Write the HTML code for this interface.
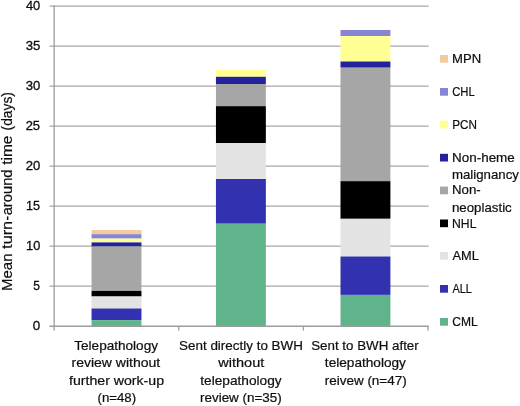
<!DOCTYPE html>
<html>
<head>
<meta charset="utf-8">
<title>Mean turn-around time</title>
<style>
html,body{margin:0;padding:0;background:#fff;}
body{width:520px;height:406px;overflow:hidden;font-family:"Liberation Sans",sans-serif;}
svg{display:block;}
text{font-family:"Liberation Sans",sans-serif;fill:#0d0d0d;stroke:#0d0d0d;stroke-width:0.2px;stroke-linejoin:round;}
.tk{stroke-width:0.3px;}
</style>
</head>
<body>
<svg width="520" height="406" viewBox="0 0 520 406">
<defs><filter id="soft" x="0" y="0" width="520" height="406" filterUnits="userSpaceOnUse"><feGaussianBlur stdDeviation="0.3"/></filter></defs>
<rect x="0" y="0" width="520" height="406" fill="#ffffff"/>
<g id="grid" stroke="#a6a6a6" stroke-width="1.25" fill="none" filter="url(#soft)">
<line x1="49.5" y1="6.0" x2="428.6" y2="6.0"/>
<line x1="49.5" y1="46.0" x2="428.6" y2="46.0"/>
<line x1="49.5" y1="86.0" x2="428.6" y2="86.0"/>
<line x1="49.5" y1="126.0" x2="428.6" y2="126.0"/>
<line x1="49.5" y1="166.0" x2="428.6" y2="166.0"/>
<line x1="49.5" y1="206.0" x2="428.6" y2="206.0"/>
<line x1="49.5" y1="246.0" x2="428.6" y2="246.0"/>
<line x1="49.5" y1="286.0" x2="428.6" y2="286.0"/>
</g>
<g id="bar1" filter="url(#soft)">
<rect x="91.55" y="230" width="49.9" height="4.20" fill="#f4cb9a"/>
<rect x="91.55" y="234.2" width="49.9" height="4.40" fill="#8585d4"/>
<rect x="91.55" y="238.6" width="49.9" height="3.80" fill="#ffff94"/>
<rect x="91.55" y="242.4" width="49.9" height="4.10" fill="#24249c"/>
<rect x="91.55" y="246.5" width="49.9" height="44.40" fill="#a6a6a6"/>
<rect x="91.55" y="290.9" width="49.9" height="5.60" fill="#000000"/>
<rect x="91.55" y="296.5" width="49.9" height="12.00" fill="#e3e3e3"/>
<rect x="91.55" y="308.5" width="49.9" height="11.60" fill="#3030b0"/>
<rect x="91.55" y="320.1" width="49.9" height="5.90" fill="#60b48c"/>
</g>
<g id="bar2" filter="url(#soft)">
<rect x="215.95" y="69.8" width="49.9" height="7.00" fill="#ffff94"/>
<rect x="215.95" y="76.8" width="49.9" height="7.20" fill="#24249c"/>
<rect x="215.95" y="84" width="49.9" height="22.20" fill="#a6a6a6"/>
<rect x="215.95" y="106.2" width="49.9" height="36.80" fill="#000000"/>
<rect x="215.95" y="143" width="49.9" height="36.00" fill="#e3e3e3"/>
<rect x="215.95" y="179" width="49.9" height="44.70" fill="#3030b0"/>
<rect x="215.95" y="223.7" width="49.9" height="102.30" fill="#60b48c"/>
</g>
<g id="bar3" filter="url(#soft)">
<rect x="340.5" y="30" width="49.9" height="6.00" fill="#8585d4"/>
<rect x="340.5" y="36" width="49.9" height="25.50" fill="#ffff94"/>
<rect x="340.5" y="61.5" width="49.9" height="6.20" fill="#24249c"/>
<rect x="340.5" y="67.7" width="49.9" height="113.50" fill="#a6a6a6"/>
<rect x="340.5" y="181.2" width="49.9" height="37.60" fill="#000000"/>
<rect x="340.5" y="218.8" width="49.9" height="37.70" fill="#e3e3e3"/>
<rect x="340.5" y="256.5" width="49.9" height="38.40" fill="#3030b0"/>
<rect x="340.5" y="294.9" width="49.9" height="31.10" fill="#60b48c"/>
</g>
<g id="axes" stroke="#9c9c9c" stroke-width="1.3" fill="none" filter="url(#soft)">
<line x1="54.15" y1="5.3" x2="54.15" y2="330.6"/>
<line x1="49.4" y1="326.25" x2="428.8" y2="326.25"/>
</g>
<g id="xticks" stroke="#a0a0a0" stroke-width="1.3" fill="none" filter="url(#soft)">
<line x1="178.7" y1="326" x2="178.7" y2="330.6"/>
<line x1="303.4" y1="326" x2="303.4" y2="330.6"/>
<line x1="428" y1="326" x2="428" y2="330.6"/>
</g>
<g id="legend" filter="url(#soft)">
<rect x="440" y="55" width="8" height="7.7" fill="#f4cb9a"/>
<rect x="440" y="88" width="8" height="7.7" fill="#8585d4"/>
<rect x="440" y="120.7" width="8" height="7.7" fill="#ffff94"/>
<rect x="440" y="153.8" width="8" height="7.7" fill="#24249c"/>
<rect x="440" y="186.6" width="8" height="7.7" fill="#a6a6a6"/>
<rect x="440" y="219.5" width="8" height="7.7" fill="#000000"/>
<rect x="440" y="252" width="8" height="7.7" fill="#e3e3e3"/>
<rect x="440" y="285" width="8" height="7.7" fill="#3030b0"/>
<rect x="440" y="318" width="8" height="7.7" fill="#60b48c"/>
</g>
<g id="labels" filter="url(#soft)">
<text id="t40" class="tk" x="25.90" y="10.3" font-size="12.4" textLength="14.35" lengthAdjust="spacingAndGlyphs">40</text>
<text id="t35" class="tk" x="25.65" y="50.3" font-size="12.4" textLength="14.67" lengthAdjust="spacingAndGlyphs">35</text>
<text id="t30" class="tk" x="25.65" y="90.3" font-size="12.4" textLength="14.61" lengthAdjust="spacingAndGlyphs">30</text>
<text id="t25" class="tk" x="25.65" y="130.3" font-size="12.4" textLength="14.45" lengthAdjust="spacingAndGlyphs">25</text>
<text id="t20" class="tk" x="25.65" y="170.3" font-size="12.4" textLength="14.62" lengthAdjust="spacingAndGlyphs">20</text>
<text id="t15" class="tk" x="26.10" y="210.3" font-size="12.4" textLength="14.03" lengthAdjust="spacingAndGlyphs">15</text>
<text id="t10" class="tk" x="26.10" y="250.3" font-size="12.4" textLength="14.21" lengthAdjust="spacingAndGlyphs">10</text>
<text id="t5" class="tk" x="33.25" y="290.3" font-size="12.4" textLength="6.67" lengthAdjust="spacingAndGlyphs">5</text>
<text id="t0" class="tk" x="32.75" y="330.3" font-size="12.4" textLength="7.47" lengthAdjust="spacingAndGlyphs">0</text>
<text id="c11" class="cat" x="74.25" y="349.6" font-size="13.2" textLength="83.75" lengthAdjust="spacingAndGlyphs">Telepathology</text>
<text id="c12" class="cat" x="71.50" y="367.1" font-size="13.2" textLength="88.75" lengthAdjust="spacingAndGlyphs">review without</text>
<text id="c13" class="cat" x="69.00" y="384.6" font-size="13.2" textLength="95.01" lengthAdjust="spacingAndGlyphs">further work-up</text>
<text id="c14" class="cat" x="97.50" y="401.9" font-size="13.2" textLength="38.55" lengthAdjust="spacingAndGlyphs">(n=48)</text>
<text id="c21" class="cat" x="179.00" y="349.6" font-size="13.2" textLength="123.97" lengthAdjust="spacingAndGlyphs">Sent directly to BWH</text>
<text id="c22" class="cat" x="218.25" y="367.1" font-size="13.2" textLength="46.01" lengthAdjust="spacingAndGlyphs">without</text>
<text id="c23" class="cat" x="200.25" y="384.6" font-size="13.2" textLength="81.45" lengthAdjust="spacingAndGlyphs">telepathology</text>
<text id="c24" class="cat" x="200.00" y="401.9" font-size="13.2" textLength="81.77" lengthAdjust="spacingAndGlyphs">review (n=35)</text>
<text id="c31" class="cat" x="311.20" y="349.6" font-size="13.2" textLength="107.56" lengthAdjust="spacingAndGlyphs">Sent to BWH after</text>
<text id="c32" class="cat" x="324.85" y="367.1" font-size="13.2" textLength="81.11" lengthAdjust="spacingAndGlyphs">telepathology</text>
<text id="c33" class="cat" x="324.70" y="384.6" font-size="13.2" textLength="82.03" lengthAdjust="spacingAndGlyphs">reivew (n=47)</text>
<text id="l1" class="lg" x="452.05" y="62.8" font-size="13.0" textLength="29.08" lengthAdjust="spacingAndGlyphs">MPN</text>
<text id="l2" class="lg" x="452.25" y="96.2" font-size="13.0" textLength="22.44" lengthAdjust="spacingAndGlyphs">CHL</text>
<text id="l3" class="lg" x="452.30" y="128.5" font-size="13.0" textLength="24.72" lengthAdjust="spacingAndGlyphs">PCN</text>
<text id="l4a" class="lg" x="452.05" y="161.6" font-size="13.0" textLength="62.73" lengthAdjust="spacingAndGlyphs">Non-heme</text>
<text id="l4b" class="lg" x="452.00" y="179.4" font-size="13.0" textLength="66.91" lengthAdjust="spacingAndGlyphs">malignancy</text>
<text id="l5a" class="lg" x="452.05" y="194.2" font-size="13.0" textLength="28.63" lengthAdjust="spacingAndGlyphs">Non-</text>
<text id="l5b" class="lg" x="452.00" y="211.7" font-size="13.0" textLength="59.72" lengthAdjust="spacingAndGlyphs">neoplastic</text>
<text id="l6" class="lg" x="452.05" y="227.6" font-size="13.0" textLength="24.43" lengthAdjust="spacingAndGlyphs">NHL</text>
<text id="l7" class="lg" x="452.45" y="259.8" font-size="13.0" textLength="26.38" lengthAdjust="spacingAndGlyphs">AML</text>
<text id="l8" class="lg" x="452.45" y="292.7" font-size="13.0" textLength="19.48" lengthAdjust="spacingAndGlyphs">ALL</text>
<text id="l9" class="lg" x="452.25" y="325.5" font-size="13.0" textLength="25.38" lengthAdjust="spacingAndGlyphs">CML</text>
<text id="y1" class="yt" transform="translate(12.3,291.00) rotate(-90)" font-size="14.4" textLength="37.50" lengthAdjust="spacingAndGlyphs">Mean</text>
<text id="y2" class="yt" transform="translate(12.3,248.90) rotate(-90)" font-size="14.4" textLength="28.10" lengthAdjust="spacingAndGlyphs">turn</text>
<text id="y2b" class="yt" transform="translate(12.3,220.55) rotate(-90)" font-size="14.4" textLength="4.51" lengthAdjust="spacingAndGlyphs">-</text>
<text id="y2c" class="yt" transform="translate(12.3,215.35) rotate(-90)" font-size="14.4" textLength="45.88" lengthAdjust="spacingAndGlyphs">around</text>
<text id="y3" class="yt" transform="translate(12.3,164.80) rotate(-90)" font-size="14.4" textLength="29.28" lengthAdjust="spacingAndGlyphs">time</text>
<text id="y4" class="yt" transform="translate(12.3,130.40) rotate(-90)" font-size="14.4" textLength="38.27" lengthAdjust="spacingAndGlyphs">(days)</text>
</g>
</svg>
</body>
</html>
